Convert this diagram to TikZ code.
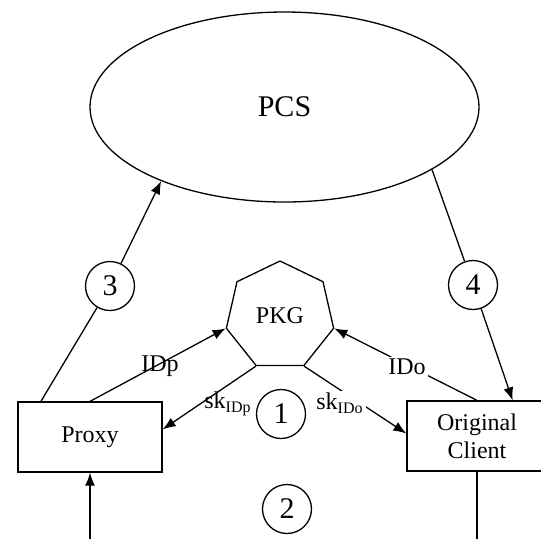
\documentclass[tikz,border=0pt]{standalone}
\usepackage{fontspec}
\setmainfont{Liberation Serif}
\usetikzlibrary{shapes.geometric,arrows.meta}

\tikzset{
  entitybox/.style={draw, rectangle, minimum width=72pt, minimum height=35pt, inner sep=0pt,
    align=center, font=\fontsize{12}{14}\selectfont},
  numcirc/.style={draw, circle, minimum size=24.5pt, inner sep=0pt, font=\fontsize{15}{16}\selectfont},
  lbl/.style={inner sep=1pt, font=\fontsize{12}{14}\selectfont},
  arrowline/.style={-{Latex[length=6.5pt,width=5pt]}}
}

\begin{document}
\begin{tikzpicture}[x=0.5pt,y=-0.5pt,line width=0.65pt]
    \useasboundingbox (0,0) rectangle (541,538);

    % servers
    \node[draw, ellipse, minimum width=194.5pt, minimum height=95pt, inner sep=0pt,
      font=\fontsize{15}{16}\selectfont] (pcs) at (284.5,107) {PCS};
    \node[draw, regular polygon, regular polygon sides=7, minimum size=55pt, inner sep=0pt,
      font=\fontsize{12}{14}\selectfont] (pkg) at (280,316) {PKG};

    % users
    \node[entitybox] (proxy) at (90,437) {Proxy};
    \node[entitybox, minimum width=70pt] (client) at (477,436) {Original\\Client};

    % steps
    \node[numcirc] (s1) at (281,414) {1};
    \node[numcirc] (s2) at (287,509) {2};
    \node[numcirc] (s3) at (110,286) {3};
    \node[numcirc] (s4) at (473,285) {4};

    \coordinate (pin) at (90,545);
    \coordinate (cout) at (477,545);

    % connectors
    \draw (proxy.144) -- (s3);
    \draw[arrowline] (s3) -- (pcs.211.5);
    \draw (pcs.337.5) -- (s4);
    \draw[arrowline] (s4) -- (client.45);

    \draw[arrowline] (proxy.north) -- (pkg.corner 3);
    \draw[arrowline] (pkg.corner 4) -- (proxy.6);
    \draw[arrowline] (client.north) -- (pkg.corner 6);
    \draw[arrowline] (pkg.corner 5) -- (client.178);

    \draw[arrowline] (pin) -- (proxy.south);
    \draw (client.south) -- (cout);

    % labels
    \node[lbl] (idp) at (160,366) {IDp};
    \node[lbl] (skp) at (228,404) {sk\textsubscript{IDp}};
    \node[lbl, fill=white] (ido) at (407,367) {IDo};
    \node[lbl, fill=white] (sko) at (340,403) {sk\textsubscript{IDo}};
\end{tikzpicture}
\end{document}
